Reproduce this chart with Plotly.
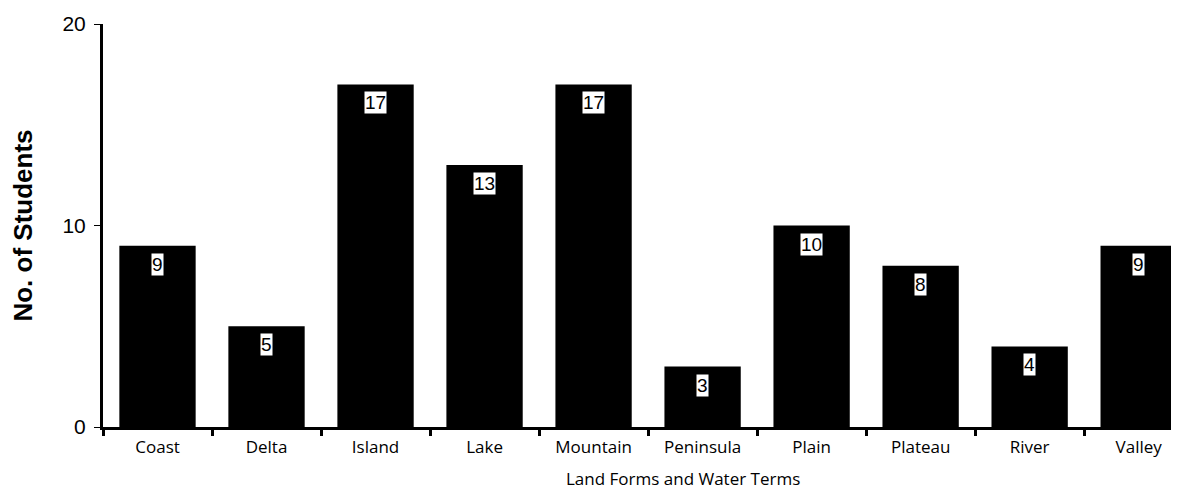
import plotly.graph_objects as go

categories = ["Coast", "Delta", "Island", "Lake", "Mountain", "Peninsula", "Plain", "Plateau", "River", "Valley"]
students = [9, 5, 17, 13, 17, 3, 10, 8, 4, 9]
y_ticks = [0, 10, 20]

fig = go.Figure()
fig.add_trace(go.Bar(x=categories, y=students, marker=dict(color="black", line=dict(width=0)),
                     hoverinfo="x+y"))

for c, v in zip(categories, students):
    fig.add_annotation(x=c, y=v, text=str(v), showarrow=False, yanchor="top", yshift=-7,
                       bgcolor="white", borderpad=0,
                       font=dict(family="Liberation Sans, Arial, sans-serif", size=19, color="black"))

fig.add_annotation(xref="paper", yref="paper", x=(682 - 101) / 1078, y=0, yshift=-38,
                   xanchor="center", yanchor="top", showarrow=False,
                   text="Land Forms and Water Terms",
                   font=dict(size=17, family="Open Sans, sans-serif", color="black"))

fig.update_layout(
    width=1171, height=482,
    margin=dict(l=95, r=0, t=16, b=63, autoexpand=False),
    plot_bgcolor="white", paper_bgcolor="white",
    bargap=0.3, showlegend=False,
    font=dict(family="Liberation Sans, Arial, sans-serif", color="black"),
    xaxis=dict(
        type="category", range=[-0.5, 9.37], tickson="boundaries", automargin=False,
        ticks="outside", ticklen=6, tickwidth=3, tickcolor="black",
        showline=True, linecolor="black", linewidth=3, showgrid=False,
        tickfont=dict(size=17, family="Open Sans, sans-serif"), ticklabelstandoff=3,
    ),
    yaxis=dict(
        range=[0, 20], tickvals=y_ticks, ticks="outside", ticklen=6, tickwidth=1, tickcolor="black",
        showline=True, linecolor="black", linewidth=3, showgrid=False, zeroline=False, automargin=False,
        tickfont=dict(size=21), ticklabelstandoff=4,
        title=dict(text="<b>No. of Students</b>", font=dict(size=26), standoff=27),
    ),
)

fig.write_html("out.html")
